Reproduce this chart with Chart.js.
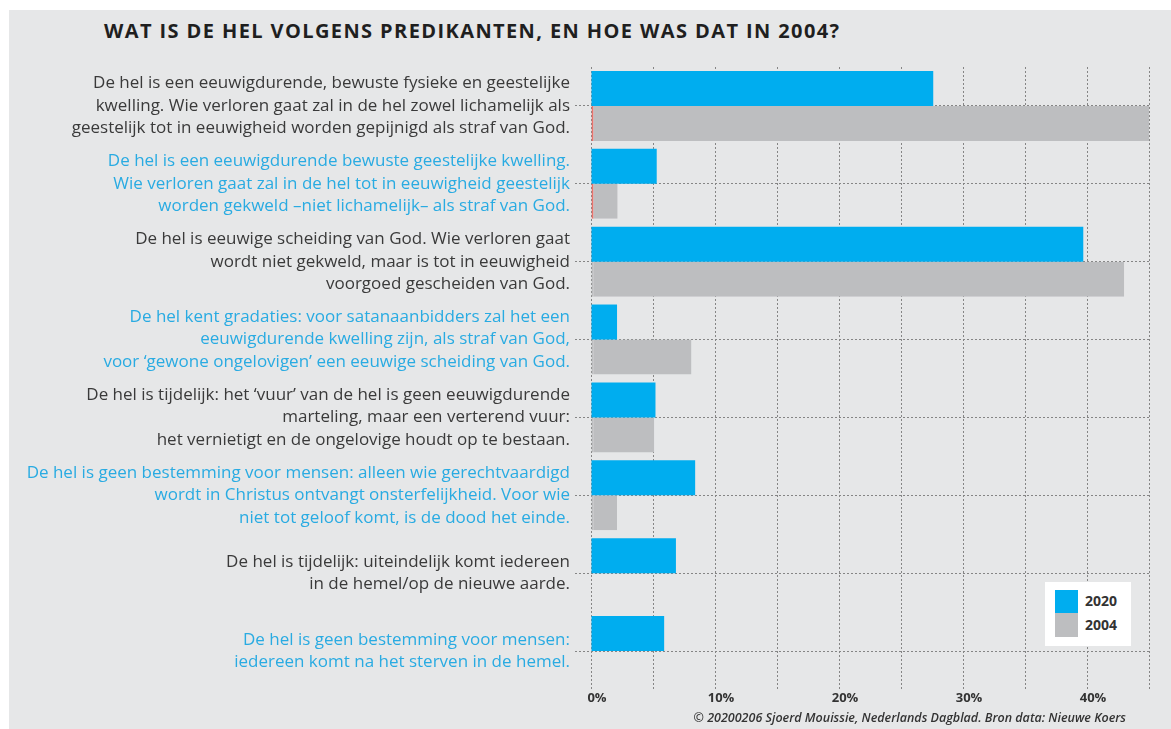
<!DOCTYPE html>
<html>
<head>
<meta charset="utf-8">
<script src="https://cdn.jsdelivr.net/npm/chart.js@4"></script>
<style>
    body { margin: 0; background: #ffffff; }
    #wrap { position: relative; width: 1171px; height: 729px; overflow: hidden; }
    #panel { position: absolute; left: 9px; top: 10px; width: 1162px; height: 719px; background: #e6e7e8; }
    #chart { position: absolute; left: 0; top: 0; }
    #title {
        position: absolute; left: 104px; top: 17px;
        font-family: "Open Sans", sans-serif; font-weight: 700; font-size: 20px;
        letter-spacing: 1.4px; color: #1f1f1f; line-height: 28px; white-space: nowrap;
    }
    #credit {
        position: absolute; right: 45px; top: 709px;
        font-family: "Open Sans", sans-serif; font-style: italic; font-weight: 600; font-size: 12.5px;
        color: #333333; white-space: nowrap;
    }
    #legend { position: absolute; left: 1045px; top: 582px; width: 86px; height: 64px; background: #ffffff; }
    .swatch { position: absolute; left: 10px; width: 23px; height: 24px; }
    .item {
        position: absolute; left: 40px;
        font-family: "Open Sans", sans-serif; font-weight: 700; font-size: 14px; color: #333333;
    }
</style>
</head>
<body>
<div id="wrap">
    <div id="panel"></div>
    <div id="title">WAT IS DE HEL VOLGENS PREDIKANTEN, EN HOE WAS DAT IN 2004?</div>
    <canvas id="chart" width="1171" height="729"></canvas>
    <div id="legend"></div>
    <div id="credit">© 20200206 Sjoerd Mouissie, Nederlands Dagblad. Bron data: Nieuwe Koers</div>
</div>
<script>
// Statements (one array of lines per bar pair)
const categories = [
    ["De hel is een eeuwigdurende, bewuste fysieke en geestelijke",
     "kwelling. Wie verloren gaat zal in de hel zowel lichamelijk als",
     "geestelijk tot in eeuwigheid worden gepijnigd als straf van God."],
    ["De hel is een eeuwigdurende bewuste geestelijke kwelling.",
     "Wie verloren gaat zal in de hel tot in eeuwigheid geestelijk",
     "worden gekweld –niet lichamelijk– als straf van God."],
    ["De hel is eeuwige scheiding van God. Wie verloren gaat",
     "wordt niet gekweld, maar is tot in eeuwigheid",
     "voorgoed gescheiden van God."],
    ["De hel kent gradaties: voor satanaanbidders zal het een",
     "eeuwigdurende kwelling zijn, als straf van God,",
     "voor ‘gewone ongelovigen’ een eeuwige scheiding van God."],
    ["De hel is tijdelijk: het ‘vuur’ van de hel is geen eeuwigdurende",
     "marteling, maar een verterend vuur:",
     "het vernietigt en de ongelovige houdt op te bestaan."],
    ["De hel is geen bestemming voor mensen: alleen wie gerechtvaardigd",
     "wordt in Christus ontvangt onsterfelijkheid. Voor wie",
     "niet tot geloof komt, is de dood het einde."],
    ["De hel is tijdelijk: uiteindelijk komt iedereen",
     "in de hemel/op de nieuwe aarde."],
    ["De hel is geen bestemming voor mensen:",
     "iedereen komt na het sterven in de hemel."]
];

// Percentages per year
const values2020 = [27.6, 5.3, 39.7, 2.1, 5.2, 8.4, 6.85, 5.9];
const values2004 = [45.0, 2.15, 43.0, 8.1, 5.1, 2.1, null, null];
const seriesNames = ['2020', '2004'];

const blue = '#00adef';
const grey = '#bdbec0';
const labelColors = ['#3a3a3a', '#29abe2'];
const gridColor = '#858585';

// Small red edge that shows on the first two grey bars
const greyEdge = values2004.map((v, i) => i < 2 ? '#e8736c' : grey);

// HTML legend in the white box
function buildLegend() {
    const legend = document.getElementById('legend');
    const colors = [blue, grey];
    seriesNames.forEach((name, i) => {
        const sw = document.createElement('div');
        sw.className = 'swatch';
        sw.style.top = (8 + i * 23) + 'px';
        sw.style.background = colors[i];
        legend.appendChild(sw);
        const txt = document.createElement('div');
        txt.className = 'item';
        txt.style.top = (9 + i * 24) + 'px';
        txt.textContent = name;
        legend.appendChild(txt);
    });
}

const ctx = document.getElementById('chart').getContext('2d');

window.chart = new Chart(ctx, {
    type: 'bar',
    data: {
        labels: categories,
        datasets: [{
            label: seriesNames[0],
            data: values2020,
            backgroundColor: blue,
            borderWidth: 0
        }, {
            label: seriesNames[1],
            data: values2004,
            backgroundColor: grey,
            borderColor: greyEdge,
            borderWidth: { left: 2, right: 0, top: 0, bottom: 0 },
            borderSkipped: false
        }]
    },
    options: {
        indexAxis: 'y',
        responsive: false,
        animation: false,
        layout: { padding: { top: 67, right: 22, bottom: 9, left: 0 } },
        datasets: { bar: { barPercentage: 1, categoryPercentage: 0.9 } },
        plugins: {
            legend: { display: false },
            tooltip: { enabled: false }
        },
        scales: {
            x: {
                min: 0,
                max: 45,
                afterFit: function(scale) { scale.height = 30; },
                ticks: {
                    stepSize: 5,
                    padding: 0,
                    labelOffset: 6,
                    color: '#333333',
                    font: { family: 'Open Sans', size: 13, weight: '700' },
                    callback: function(value) { return value % 10 === 0 && value < 45 ? value + '%' : ''; }
                },
                grid: { color: gridColor, lineWidth: 1, drawTicks: false },
                border: { display: false, dash: [2, 2] }
            },
            y: {
                afterFit: function(scale) { scale.width = 591; },
                ticks: {
                    padding: 5,
                    color: function(c) { return labelColors[c.index % 2]; },
                    font: { family: 'Open Sans', size: 17, lineHeight: 1.32 }
                },
                grid: {
                    offset: false,
                    color: gridColor,
                    lineWidth: 1,
                    tickLength: 16,
                    tickColor: gridColor,
                    tickBorderDash: [2, 2]
                },
                border: { display: false, dash: [2, 2] }
            }
        }
    }
});

buildLegend();
</script>
</body>
</html>
